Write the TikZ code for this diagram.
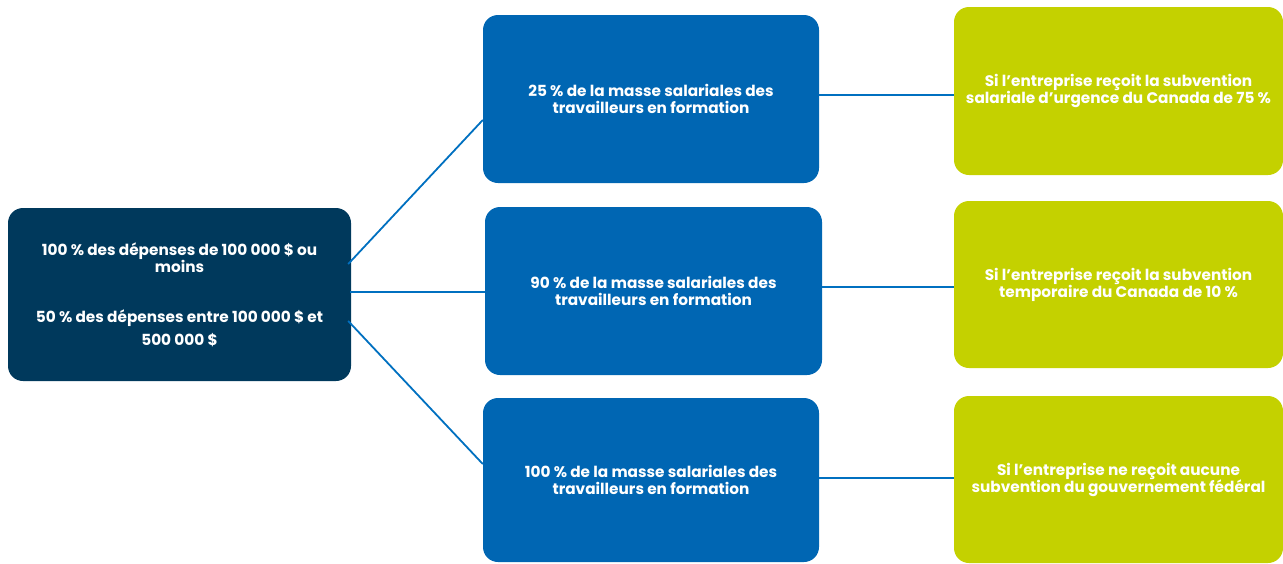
\documentclass[tikz,border=0pt]{standalone}
\usepackage{fontspec}
\setmainfont{Poppins}
\usetikzlibrary{calc}
\definecolor{navy}{RGB}{0,57,92}
\definecolor{midblue}{RGB}{0,102,179}
\definecolor{lime}{RGB}{196,209,0}
\definecolor{linkblue}{RGB}{0,112,192}
\tikzset{
  box/.style={rounded corners=15pt, inner sep=0pt, align=center, text=white,
    font=\bfseries\fontsize{15.3}{17}\selectfont},
  leftbox/.style={box, fill=navy, minimum width=343pt, minimum height=173pt},
  midbox/.style={box, fill=midblue, minimum width=336pt, minimum height=168pt},
  rightbox/.style={box, fill=lime, minimum width=329pt, minimum height=168pt},
  link/.style={draw=linkblue, line width=1.8pt}
}
\begin{document}
\begin{tikzpicture}[x=1pt,y=-1pt]
\useasboundingbox (0,0) rectangle (1283,563);
\node[leftbox] (L) at (179.5,294.5) {100 \% des dépenses de 100 000 \$ ou\\moins\\[33pt]50 \% des dépenses entre 100 000 \$ et\\[6pt]500 000 \$};
\node[midbox] (M1) at (651,99) {25 \% de la masse salariales des\\travailleurs en formation};
\node[midbox, minimum width=337pt] (M2) at (653.5,291) {90 \% de la masse salariales des\\travailleurs en formation};
\node[midbox, minimum height=164pt] (M3) at (651,480) {100 \% de la masse salariales des\\travailleurs en formation};
\node[rightbox] (R1) at (1118.5,91) {Si l’entreprise reçoit la subvention\\salariale d’urgence du Canada de 75 \%};
\node[rightbox, minimum height=167pt] (R2) at (1118.5,284.5) {Si l’entreprise reçoit la subvention\\temporaire du Canada de 10 \%};
\node[rightbox, minimum height=167pt] (R3) at (1118.5,479.5) {Si l’entreprise ne reçoit aucune\\subvention du gouvernement fédéral};
\coordinate (L1) at ($(L.east)+(-3,-30.5)$);
\coordinate (L2) at ($(L.east)+(-1,-2.5)$);
\coordinate (L3) at ($(L.east)+(-3,26.5)$);
\coordinate (M1in) at ($(M1.west)+(0,21)$);
\coordinate (M3in) at ($(M3.west)+(0,-16)$);
\draw[link] (L1) -- (M1in);
\draw[link] (L2) -- (L2 -| M2.west);
\draw[link] (L3) -- (M3in);
\draw[link] (M1.east |- 0,95) -- (R1.west |- 0,95);
\draw[link] (M2.east |- 0,287) -- (R2.west |- 0,287);
\draw[link] (M3.east |- 0,478) -- (R3.west |- 0,478);
\end{tikzpicture}
\end{document}
